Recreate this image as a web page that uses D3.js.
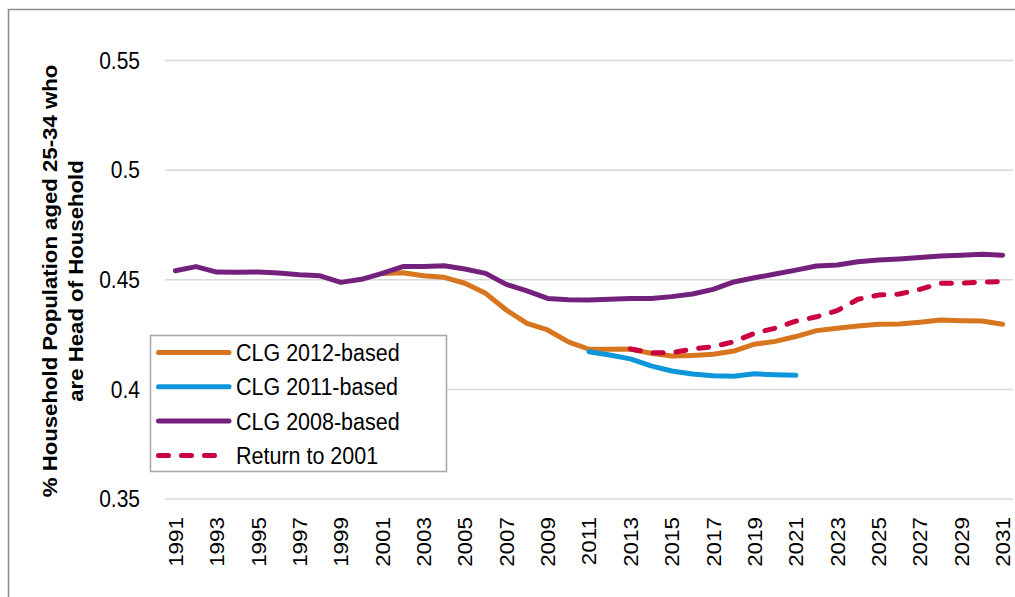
<!DOCTYPE html>
<html>
<head>
<meta charset="utf-8">
<script src="https://cdn.jsdelivr.net/npm/d3@7"></script>
<style>
  html, body { margin: 0; padding: 0; background: #fff; }
  svg { display: block; font-family: "Liberation Sans", Arial, sans-serif; }
</style>
</head>
<body>
<svg id="chart" width="1015" height="597"></svg>
<script>
// Years on the category axis
const years = d3.range(1991, 2032);
const yearLabels = years.filter(y => (y - 1991) % 2 === 0);
const yTicks = [0.35, 0.4, 0.45, 0.5, 0.55];

// Share of 25-34 household population who head a household
const clg2008Years = d3.range(1991, 2032);
const clg2008 = [
  0.4541, 0.4560, 0.4535, 0.4534, 0.4535, 0.4531, 0.4523, 0.4518, 0.4488, 0.4502,
  0.4529, 0.4560, 0.4560, 0.4564, 0.4549, 0.4529, 0.4479, 0.4449, 0.4415, 0.4409,
  0.4408, 0.4411, 0.4415, 0.4414, 0.4423, 0.4435, 0.4456, 0.4490, 0.4509, 0.4526,
  0.4544, 0.4563, 0.4567, 0.4582, 0.4590, 0.4595, 0.4601, 0.4608, 0.4612, 0.4616,
  0.4612
];

const clg2012Years = d3.range(2001, 2032);
const clg2012 = [
  0.4529, 0.4532, 0.4518, 0.4511, 0.4484, 0.4438, 0.4362, 0.4301, 0.4271, 0.4217,
  0.4183, 0.4183, 0.4184, 0.4165, 0.4152, 0.4155, 0.4160, 0.4175, 0.4206, 0.4219,
  0.4241, 0.4268, 0.4279, 0.4289, 0.4297, 0.4298, 0.4306, 0.4316, 0.4313, 0.4312,
  0.4297
];

const clg2011Years = d3.range(2011, 2022);
const clg2011 = [
  0.4172, 0.4157, 0.4139, 0.4107, 0.4084, 0.4070, 0.4062, 0.4060, 0.4071, 0.4067,
  0.4064
];

const return2001Years = d3.range(2013, 2032);
const return2001 = [
  0.4184, 0.4167, 0.4167, 0.4184, 0.4195, 0.4217, 0.4256, 0.4279, 0.4311, 0.4331,
  0.4359, 0.4411, 0.4430, 0.4435, 0.4456, 0.4484, 0.4484, 0.4490, 0.4491
];

const seriesNames = ["CLG 2012-based", "CLG 2011-based", "CLG 2008-based", "Return to 2001"];
const yTitleLines = ["% Household Population aged 25-34 who", "are Head of Household"];

// Series table, in legend order
const colors = ["#D7761F", "#0D96DA", "#74217E", "#C9023F"];
const series = [
  { name: seriesNames[0], years: clg2012Years, values: clg2012, color: colors[0], dashed: false },
  { name: seriesNames[1], years: clg2011Years, values: clg2011, color: colors[1], dashed: false },
  { name: seriesNames[2], years: clg2008Years, values: clg2008, color: colors[2], dashed: false },
  { name: seriesNames[3], years: return2001Years, values: return2001, color: colors[3], dashed: true }
];

// Text is drawn slightly tall and narrow
const tall = 1.15;

const svg = d3.select("#chart");
const plot = { left: 165, right: 1013, top: 60.5, bottom: 499 };

// Outer chart frame
svg.append("rect")
  .attr("x", 8.5).attr("y", 9.5)
  .attr("width", 1020).attr("height", 600)
  .attr("fill", "none").attr("stroke", "#8c8c8c").attr("stroke-width", 1.5);

const x = d3.scalePoint().domain(years).range([plot.left, plot.right]).padding(0.5);
const y = d3.scaleLinear().domain([0.35, 0.55]).range([plot.bottom, plot.top]);

// Horizontal gridlines
svg.append("g")
  .selectAll("line")
  .data(yTicks)
  .join("line")
  .attr("x1", plot.left).attr("x2", plot.right)
  .attr("y1", d => y(d)).attr("y2", d => y(d))
  .attr("stroke", "#d9d9d9").attr("stroke-width", 1.5);

// Y axis labels
const yAxis = svg.append("g")
  .attr("transform", `translate(${plot.left},0)`)
  .call(d3.axisLeft(y).tickValues(yTicks).tickFormat(d3.format("~g")).tickSize(0).tickPadding(25));
yAxis.select(".domain").remove();
yAxis.selectAll("text")
  .attr("font-family", "Liberation Sans, Arial, sans-serif")
  .attr("font-size", 21)
  .attr("fill", "#000")
  .attr("transform", `scale(1,${tall})`);

// X axis labels, rotated
const xAxis = svg.append("g")
  .attr("transform", `translate(0,${plot.bottom})`)
  .call(d3.axisBottom(x).tickValues(yearLabels).tickSize(0).tickPadding(0));
xAxis.select(".domain").remove();
xAxis.selectAll("text")
  .attr("font-family", "Liberation Sans, Arial, sans-serif")
  .attr("font-size", 19.5)
  .attr("fill", "#000")
  .attr("text-anchor", "end")
  .attr("dy", null)
  .attr("dominant-baseline", "central")
  .attr("transform", `translate(0,18) scale(1,${tall}) rotate(-90)`)
  .attr("y", 0).attr("x", 0);

// Y axis title
svg.append("text")
  .attr("transform", `translate(63,281) scale(1,${tall}) rotate(-90)`)
  .attr("text-anchor", "middle")
  .attr("font-weight", "bold")
  .attr("font-size", 19.3)
  .selectAll("tspan")
  .data(yTitleLines)
  .join("tspan")
  .attr("x", 0)
  .attr("y", (d, i) => i === 0 ? -6 : 20)
  .text(d => d);

// Series lines
const line = d3.line()
  .x(d => x(d[0]))
  .y(d => y(d[1]));

const drawOrder = [0, 1, 3, 2];
svg.append("g")
  .selectAll("path")
  .data(drawOrder.map(i => series[i]))
  .join("path")
  .attr("d", s => line(d3.zip(s.years, s.values)))
  .attr("fill", "none")
  .attr("stroke", s => s.color)
  .attr("stroke-width", 5)
  .attr("stroke-linejoin", "round")
  .attr("stroke-linecap", "round")
  .attr("stroke-dasharray", s => s.dashed ? "10,13" : null);

// Legend
const legend = svg.append("g");
legend.append("rect")
  .attr("x", 150.5).attr("y", 335.5)
  .attr("width", 296).attr("height", 136)
  .attr("fill", "#fff").attr("stroke", "#a6a6a6").attr("stroke-width", 1.5);

const rows = legend.selectAll("g.row")
  .data(series)
  .join("g")
  .attr("class", "row")
  .attr("transform", (d, i) => `translate(0,${352.5 + i * 34.3})`);

rows.append("line")
  .attr("x1", 158.5).attr("x2", s => s.dashed ? 221 : 229)
  .attr("y1", 0).attr("y2", 0)
  .attr("stroke", s => s.color)
  .attr("stroke-width", 5)
  .attr("stroke-linecap", "round")
  .attr("stroke-dasharray", s => s.dashed ? "10,13" : null);

rows.append("text")
  .attr("x", 236)
  .attr("y", 0)
  .attr("dy", "0.35em")
  .attr("font-size", 21.5)
  .attr("fill", "#000")
  .attr("transform", `scale(1,${tall})`)
  .text(s => s.name);
</script>
</body>
</html>
